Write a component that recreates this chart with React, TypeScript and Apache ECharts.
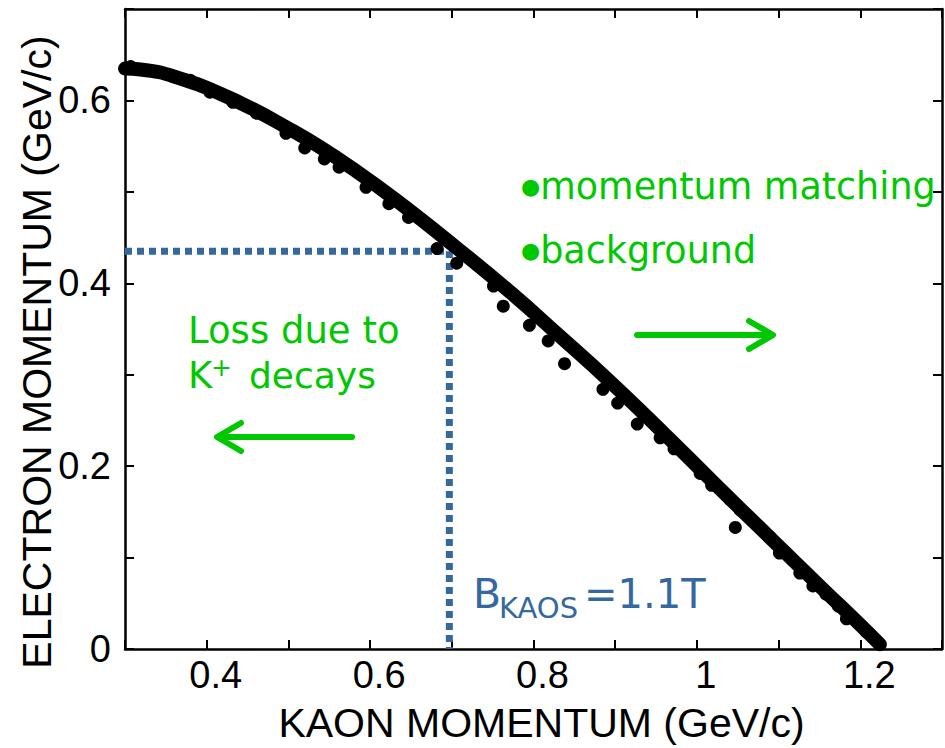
import React, { useEffect, useRef } from "react";
import * as echarts from "echarts";

// Main band (centre line of the dense dot band)
const bandKaon = [0.3, 0.319, 0.376, 0.416, 0.456, 0.497, 0.538, 0.578, 0.631, 0.704, 0.773, 0.833, 0.891, 0.96, 1.02, 1.093, 1.154, 1.195, 1.224];
const bandElectron = [0.6348, 0.6339, 0.6216, 0.6076, 0.5908, 0.5709, 0.5494, 0.5258, 0.4915, 0.4401, 0.3892, 0.3415, 0.2947, 0.2355, 0.1824, 0.1187, 0.0656, 0.0306, 0.0051];

// Scattered dots just below the band
const dotKaon = [0.307, 0.38, 0.404, 0.432, 0.461, 0.497, 0.52, 0.544, 0.562, 0.595, 0.623, 0.647, 0.682, 0.706, 0.751, 0.763, 0.795, 0.818, 0.838, 0.885, 0.903, 0.927, 0.955, 0.972, 1.004, 1.018, 1.041, 1.053, 1.047, 1.089, 1.101, 1.126, 1.142, 1.158, 1.173, 1.183, 1.207];
const dotElectron = [0.637, 0.622, 0.609, 0.598, 0.586, 0.564, 0.548, 0.536, 0.527, 0.505, 0.487, 0.472, 0.438, 0.422, 0.397, 0.375, 0.354, 0.337, 0.312, 0.284, 0.269, 0.246, 0.231, 0.219, 0.192, 0.179, 0.163, 0.152, 0.133, 0.123, 0.105, 0.083, 0.069, 0.06, 0.047, 0.033, 0.019];

// Guide (B_KAOS = 1.1 T acceptance limit)
const guideKaon = 0.697;
const guideElectron = 0.435;

const xTickLabels = ["0.4", "0.6", "0.8", "1", "1.2"];
const yTickLabels = ["0", "0.2", "0.4", "0.6"];

const GREEN = "#00c800";
const BLUE = "#35689f";
const SANS = "Liberation Sans, Arial, sans-serif";
const VER = "DejaVu Sans, Verdana, sans-serif";

function fmt(v: number, labels: string[]) {
  const k = Math.round(v * 10);
  const s = String(k / 10);
  return k % 2 === 0 && labels.includes(s) ? s : "";
}

export default function App() {
  const ref = useRef<HTMLDivElement>(null);
  useEffect(() => {
    document.body.style.margin = "0";
    const chart = echarts.init(ref.current!, undefined, { renderer: "svg" });
    const axisLine = { show: true, onZero: false, lineStyle: { color: "#000", width: 2.5 } };
    const axisTick = { show: true, inside: true, length: 9, lineStyle: { color: "#000", width: 2 } };
    const greenText = (x: number, y: number, text: string, size: number) => ({
      type: "text", x, y,
      style: { text, fill: GREEN, font: `${size}px ${VER}`, verticalAlign: "middle" },
    });
    const bulletText = (x: number, y: number, text: string) => ({
      type: "text", x, y,
      style: {
        text: `{b|●}{t|${text}}`, verticalAlign: "middle",
        rich: {
          b: { fontSize: 22, fontFamily: VER, fill: GREEN },
          t: { fontSize: 36.5, fontFamily: VER, fill: GREEN },
        },
      },
    });
    chart.setOption({
      animation: false,
      grid: { left: 125, right: 1, top: 9, bottom: 93 },
      xAxis: [
        {
          type: "value", min: 0.3, max: 1.3, interval: 0.1, position: "bottom",
          axisLine, axisTick, splitLine: { show: false },
          axisLabel: {
            margin: 7, fontSize: 38, fontFamily: SANS, color: "#000", padding: [0, 0, 0, 18],
            formatter: (v: number) => fmt(v, xTickLabels),
          },
          name: "KAON MOMENTUM (GeV/c)", nameLocation: "middle", nameGap: 53,
          nameTextStyle: { fontSize: 41, fontFamily: SANS, color: "#000", padding: [0, 0, 0, 16] },
        },
        {
          type: "value", min: 0.3, max: 1.3, interval: 0.1, position: "top",
          axisLine, axisTick, splitLine: { show: false }, axisLabel: { show: false },
        },
      ],
      yAxis: [
        {
          type: "value", min: 0, max: 0.7, interval: 0.1, position: "left",
          axisLine, axisTick, splitLine: { show: false },
          axisLabel: {
            margin: 14, fontSize: 38, fontFamily: SANS, color: "#000", showMinLabel: true,
            formatter: (v: number) => fmt(v, yTickLabels),
          },
        },
        {
          type: "value", min: 0, max: 0.7, interval: 0.1, position: "right",
          axisLine, axisTick, splitLine: { show: false }, axisLabel: { show: false },
        },
      ],
      series: [
        {
          type: "line", name: "guide", z: 1, symbol: "none", silent: true,
          data: [[0.3, guideElectron], [guideKaon, guideElectron], [guideKaon, 0]],
          lineStyle: { color: BLUE, width: 7, type: [7, 5] },
        },
        {
          type: "line", name: "band", z: 3, symbol: "none", smooth: 0.5,
          data: bandKaon.map((x, i) => [x, bandElectron[i]]),
          lineStyle: { color: "#000", width: 14, cap: "round", join: "round" },
        },
        {
          type: "scatter", name: "dots", z: 3, symbolSize: 13,
          data: dotKaon.map((x, i) => [x, dotElectron[i]]),
          itemStyle: { color: "#000", opacity: 1 },
        },
      ],
      graphic: [
        {
          type: "text", x: 37, y: 352, rotation: Math.PI / 2,
          style: { text: "ELECTRON MOMENTUM (GeV/c)", fill: "#000", font: `41px ${SANS}`, align: "center", verticalAlign: "middle" },
        },
        bulletText(521, 186, "momentum matching"),
        bulletText(521, 250, "background"),
        greenText(188, 330, "Loss due to", 37),
        greenText(188, 375, "K", 37),
        greenText(211, 367, "+", 25),
        greenText(249, 375, "decays", 36),
        { type: "polyline", shape: { points: [[637, 335], [771, 335]] }, style: { stroke: GREEN, lineWidth: 6, lineCap: "round", fill: null } },
        { type: "polyline", shape: { points: [[749, 321], [773, 335], [749, 349]] }, style: { stroke: GREEN, lineWidth: 6, lineCap: "round", lineJoin: "round", fill: null } },
        { type: "polyline", shape: { points: [[352, 437], [219, 437]] }, style: { stroke: GREEN, lineWidth: 6, lineCap: "round", fill: null } },
        { type: "polyline", shape: { points: [[241, 423], [217, 437], [241, 451]] }, style: { stroke: GREEN, lineWidth: 6, lineCap: "round", lineJoin: "round", fill: null } },
        { type: "text", x: 473, y: 594, style: { text: "B", fill: BLUE, font: `41px ${VER}`, verticalAlign: "middle" } },
        { type: "text", x: 499, y: 608, style: { text: "KAOS", fill: BLUE, font: `29px ${VER}`, verticalAlign: "middle" } },
        { type: "text", x: 584, y: 594, style: { text: "=1.1T", fill: BLUE, font: `40px ${VER}`, verticalAlign: "middle" } },
      ],
    });
    return () => chart.dispose();
  }, []);
  return <div ref={ref} style={{ width: 945, height: 748 }} />;
}
